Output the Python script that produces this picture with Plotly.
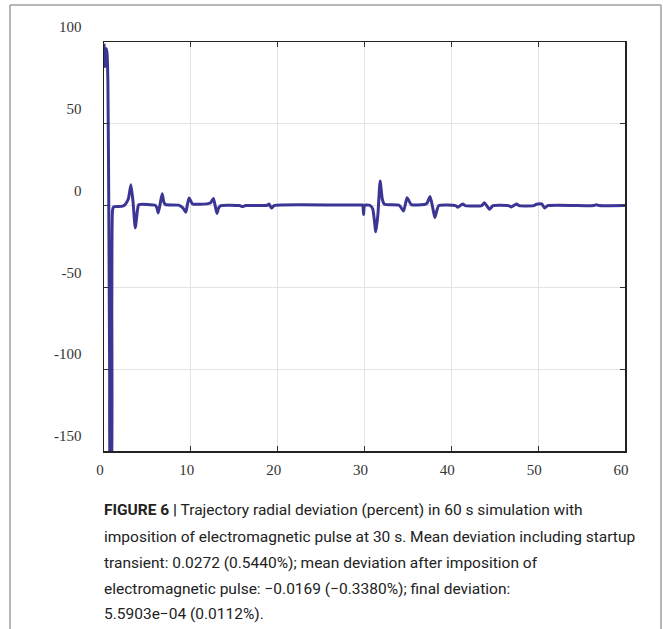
import plotly.graph_objects as go

# Time (s) and radial deviation (percent)
time_s = [0.0, 0.1, 0.25, 0.35, 0.45, 0.55, 0.65, 0.75, 0.82, 0.9, 0.98, 1.1, 2.0, 2.4, 2.8, 3.1, 3.35, 3.6, 3.85, 4.0,
          5.9, 6.1, 6.25, 6.5, 6.7, 6.9, 7.1, 8.6, 9.1, 9.42, 9.6, 9.8, 10.2, 12.0, 12.3, 12.6, 12.8, 13.0, 13.2, 13.45,
          15.6, 15.95, 16.3, 18.8, 19.0, 19.3, 19.6, 27.0, 29.7, 29.8, 29.9, 30.0, 30.3, 30.6, 30.95, 31.3, 31.55,
          31.8, 32.05, 32.3, 34.0, 34.5, 34.9, 35.4, 37.0, 37.2, 37.55, 37.85, 38.1, 38.55, 40.5, 40.75, 41.3, 41.6,
          43.5, 43.8, 44.4, 44.8, 46.6, 46.9, 47.5, 47.8, 49.5, 49.8, 50.4, 50.75, 51.1, 56.4, 56.7, 57.0, 60.0]
deviation = [99, 85, 96, 93, 75, 0, -100, -170, -170, -60, -3, -0.8, -0.5, 0.5, 4, 12.8, 2, -13.6, -3, 0.5,
             0.2, -1.5, -4.5, 2, 7.3, 2, 0.6, 0.3, -1.5, -4, 0.5, 4.7, 1, 1.2, 1.8, 4.4, 0, -4.8, -1.5, 0,
             0, -0.6, 0, 0.2, 1, -1.5, 0, 0.3, 0.4, 0.4, -5.5, 0.3, 0.4, 0.2, -2, -16, -5,
             15, 4, 0.8, 0.2, -3.3, 4.8, 0.6, 0.8, 1.4, 5.6, -1, -7.2, 0, 0, -1, 1, 0,
             0, 1.8, -2.2, 0, 0, -0.8, 1, 0, 0, 0.8, 1.0, -1.5, 0, 0, 0.5, 0, 0]

x_ticks = [0, 10, 20, 30, 40, 50, 60]
y_ticks = [-150, -100, -50, 0, 50, 100]

caption_lines = [
    "<b>FIGURE 6 |</b> Trajectory radial deviation (percent) in 60 s simulation with",
    "imposition of electromagnetic pulse at 30 s. Mean deviation including startup",
    "transient: 0.0272 (0.5440%); mean deviation after imposition of",
    "electromagnetic pulse: \u22120.0169 (\u22120.3380%); final deviation:",
    "5.5903e\u221204 (0.0112%).",
]
caption_y_px = [510, 537, 563, 589, 614]

W, H = 663, 629
L, R, T, B = 104, 625, 42, 451
pw, ph = R - L, B - T

def px_x(px):
    return (px - L) / pw

def px_y(py):
    return (B - py) / ph

fig = go.Figure()
fig.add_trace(go.Scatter(
    x=time_s, y=deviation, mode="lines",
    line=dict(color="#3b3594", width=3, shape="spline", smoothing=0.5),
    hoverinfo="skip", showlegend=False,
))

axis_font = dict(family="Liberation Serif, Times New Roman, serif", size=15, color="#333333")

fig.update_xaxes(
    range=[0, 60], tickvals=x_ticks, ticktext=[str(v) for v in x_ticks],
    showgrid=True, gridcolor="#e3e3e3", gridwidth=1, zeroline=False,
    showline=True, linecolor="#222222", linewidth=1.5, mirror="ticks",
    ticks="inside", ticklen=5, tickcolor="#333333", tickwidth=1,
    tickfont=axis_font, ticklabelstandoff=4, ticklabelshift=-4,
)
fig.update_yaxes(
    range=[-150, 100], tickvals=y_ticks, ticktext=[str(v) for v in y_ticks],
    showgrid=True, gridcolor="#e3e3e3", gridwidth=1, zeroline=False,
    showline=True, linecolor="#222222", linewidth=1.5, mirror="ticks",
    ticks="inside", ticklen=5, tickcolor="#333333", tickwidth=1,
    tickfont=axis_font, ticklabelstandoff=18, ticklabelshift=-15,
)

annotations = []
for line, py in zip(caption_lines, caption_y_px):
    annotations.append(dict(
        text=line, xref="paper", yref="paper", x=px_x(102), y=px_y(py),
        xanchor="left", yanchor="middle", showarrow=False, align="left",
        font=dict(family="Roboto, Arial, sans-serif", size=15.5, color="#222222"),
    ))

shapes = [
    # page frame lines
    dict(type="line", xref="paper", yref="paper", x0=px_x(10), x1=px_x(10), y0=px_y(5), y1=px_y(640),
         line=dict(color="#a0a0a0", width=1.5)),
    dict(type="line", xref="paper", yref="paper", x0=px_x(10), x1=px_x(661), y0=px_y(5), y1=px_y(5),
         line=dict(color="#a0a0a0", width=1.5)),
    dict(type="line", xref="paper", yref="paper", x0=px_x(661), x1=px_x(661), y0=px_y(5), y1=px_y(640),
         line=dict(color="#a0a0a0", width=1.5)),
]

fig.update_layout(
    width=W, height=H, autosize=False,
    margin=dict(l=L, r=W - R, t=T, b=H - B, pad=0),
    paper_bgcolor="white", plot_bgcolor="white",
    annotations=annotations, shapes=shapes,
)

fig.write_html("out.html", config={"displayModeBar": False, "staticPlot": True},
               post_script="document.body.style.margin='0';document.body.style.overflow='hidden';")
